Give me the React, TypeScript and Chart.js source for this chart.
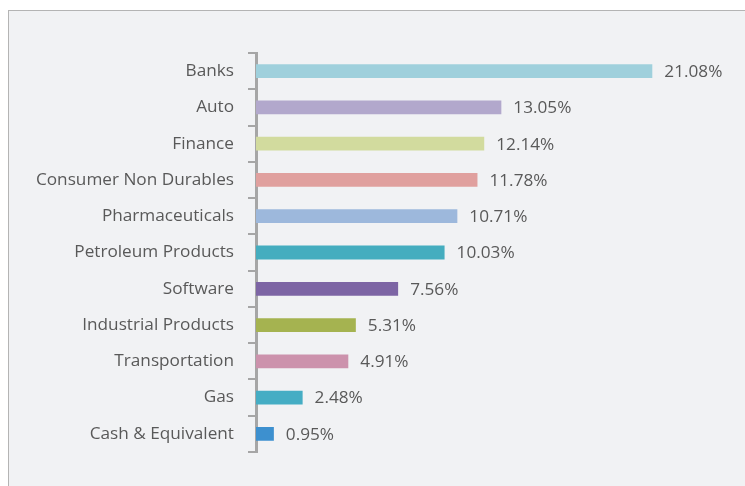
import React, { useEffect, useRef } from "react";
import { Chart, registerables } from "chart.js";

Chart.register(...registerables);

const categories = [
  "Banks",
  "Auto",
  "Finance",
  "Consumer Non Durables",
  "Pharmaceuticals",
  "Petroleum Products",
  "Software",
  "Industrial Products",
  "Transportation",
  "Gas",
  "Cash & Equivalent",
];

const values = [21.08, 13.05, 12.14, 11.78, 10.71, 10.03, 7.56, 5.31, 4.91, 2.48, 0.95];

const barColors = [
  "#9fd0dc",
  "#b2a8cc",
  "#d2db9e",
  "#e0a09e",
  "#9db8dc",
  "#45adbf",
  "#7d65a4",
  "#a5b350",
  "#cc92ac",
  "#45adc4",
  "#3d90cf",
];

const FONT = "'Open Sans', 'Noto Sans', sans-serif";
const FONT_SIZE = 17.2;

const valueLabels = {
  id: "valueLabels",
  afterDatasetsDraw(chart: any) {
    const ctx = chart.ctx;
    const meta = chart.getDatasetMeta(0);
    ctx.save();
    ctx.font = `${FONT_SIZE}px ${FONT}`;
    ctx.fillStyle = "#595959";
    ctx.textAlign = "left";
    ctx.textBaseline = "middle";
    meta.data.forEach((bar: any, i: number) => {
      ctx.fillText(values[i].toFixed(2) + "%", bar.x + 12, bar.y + 1);
    });
    ctx.restore();
  },
};

export default function App() {
  const ref = useRef<HTMLCanvasElement>(null);

  useEffect(() => {
    document.body.style.overflow = "hidden";
    const chart = new Chart(ref.current!, {
      type: "bar",
      data: {
        labels: categories,
        datasets: [
          {
            data: values,
            backgroundColor: barColors,
            borderWidth: 0,
            barPercentage: 0.38,
            categoryPercentage: 1,
          },
        ],
      },
      options: {
        indexAxis: "y",
        animation: false,
        responsive: false,
        maintainAspectRatio: false,
        layout: { padding: { top: 53, bottom: 34, right: 19, left: 0 } },
        plugins: {
          legend: { display: false },
          tooltip: { enabled: false },
        },
        scales: {
          x: {
            display: false,
            min: 0,
            max: 25,
          },
          y: {
            afterFit(scale: any) {
              scale.width = 256;
            },
            grid: {
              offset: true,
              drawOnChartArea: false,
              drawTicks: true,
              tickLength: 8,
              color: "#a6a6a6",
              lineWidth: 2,
            },
            border: { display: true, color: "#a6a6a6", width: 3 },
            ticks: {
              padding: 14,
              color: "#595959",
              font: { family: FONT, size: FONT_SIZE },
            },
          },
        },
      },
      plugins: [valueLabels],
    });
    return () => chart.destroy();
  }, []);

  return (
    <div style={{ position: "fixed", left: 0, top: 0, width: 745, height: 486, overflow: "hidden" }}>
      <div
        style={{
          position: "absolute",
          left: 8,
          top: 10,
          width: 800,
          height: 520,
          border: "1px solid #b4b4b4",
          background: "#f1f2f4",
        }}
      />
      <canvas
        ref={ref}
        width={745}
        height={486}
        style={{ position: "absolute", left: 0, top: 0, width: 745, height: 486 }}
      />
    </div>
  );
}
